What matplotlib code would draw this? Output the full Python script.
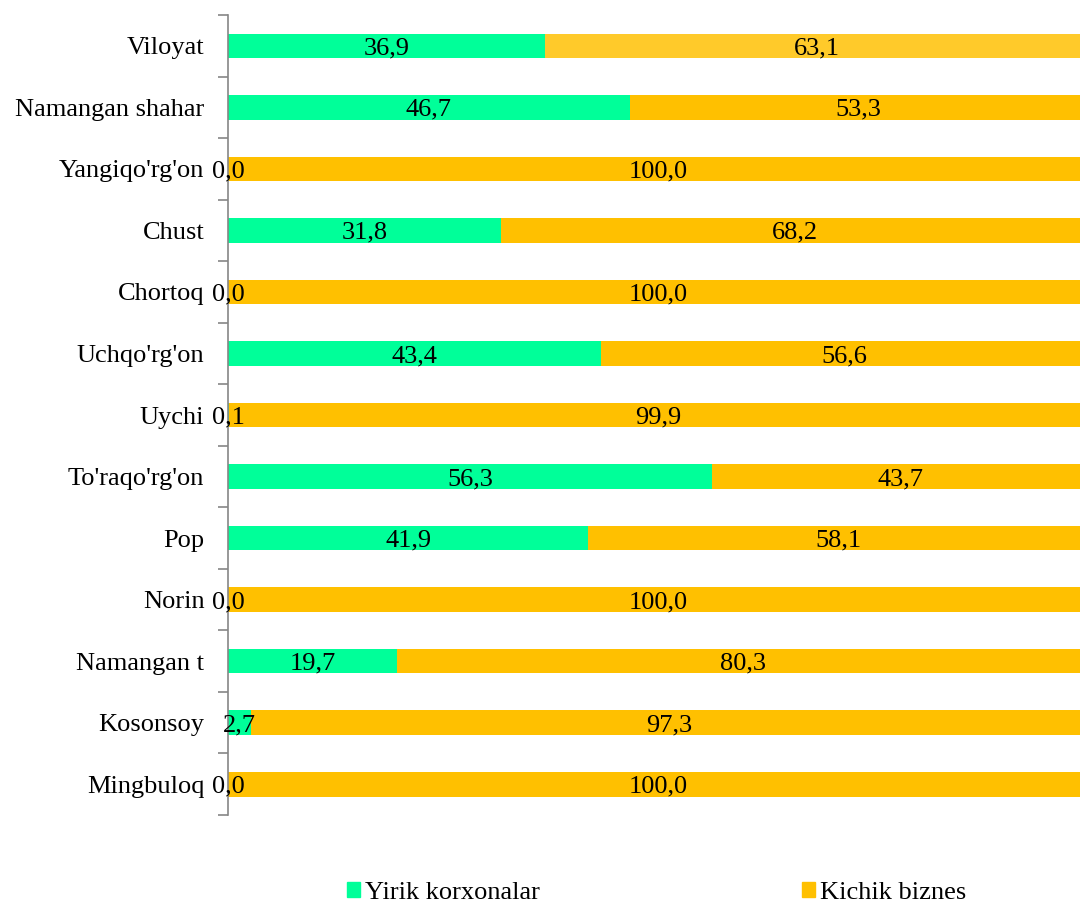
import matplotlib.pyplot as plt
from matplotlib.patches import Patch
import numpy as np

plt.rcParams['font.family'] = ['Liberation Serif', 'DejaVu Serif']

regions = ["Viloyat", "Namangan shahar", "Yangiqo'rg'on", "Chust", "Chortoq",
           "Uchqo'rg'on", "Uychi", "To'raqo'rg'on", "Pop", "Norin",
           "Namangan t", "Kosonsoy", "Mingbuloq"]
yirik = [36.9, 46.7, 0.0, 31.8, 0.0, 43.4, 0.1, 56.3, 41.9, 0.0, 19.7, 2.7, 0.0]
kichik = [63.1, 53.3, 100.0, 68.2, 100.0, 56.6, 99.9, 43.7, 58.1, 100.0, 80.3, 97.3, 100.0]

green = "#00FF99"
orange = "#FFC000"
orange_top = "#FFCA2A"

fig = plt.figure(figsize=(10.8, 9.06), dpi=100)
ax = fig.add_axes([0.2111, 0.1004, 0.7963, 0.883])

y = np.arange(len(regions))
h = 0.4
ax.barh(y, yirik, height=h, color=green)
kcol = [orange_top] + [orange] * (len(regions) - 1)
ax.barh(y, kichik, left=yirik, height=h, color=kcol)

fs = 19
for i in range(len(regions)):
    ax.text(yirik[i] / 2, y[i], f"{yirik[i]:.1f}".replace(".", ","),
            ha="center", va="center_baseline", fontsize=fs)
    ax.text(yirik[i] + kichik[i] / 2, y[i], f"{kichik[i]:.1f}".replace(".", ","),
            ha="center", va="center_baseline", fontsize=fs)

ax.set_xlim(0, 100)
ax.set_ylim(len(regions) - 0.5, -0.5)
ax.set_yticks(y)
ax.set_yticklabels(regions, fontsize=fs)
ax.set_yticks(np.arange(len(regions) + 1) - 0.5, minor=True)
ax.tick_params(axis="y", which="major", length=0, pad=17)
ax.tick_params(axis="y", which="minor", length=7, width=1.2, color="#868686", direction="out")
ax.set_xticks([])
for s in ["top", "right", "bottom"]:
    ax.spines[s].set_visible(False)
ax.spines["left"].set_color("#868686")
ax.spines["left"].set_linewidth(1.2)

hnd = [Patch(color=green), Patch(color=orange)]
lab = ["Yirik korxonalar", "Kichik biznes"]
fig.legend(hnd, lab, loc="center", bbox_to_anchor=(0.608, 0.014), ncol=2,
           frameon=False, fontsize=fs, handlelength=0.5, handleheight=0.5,
           handletextpad=0.2, columnspacing=9.9, borderaxespad=0)

fig.savefig("out.png", dpi=100)
